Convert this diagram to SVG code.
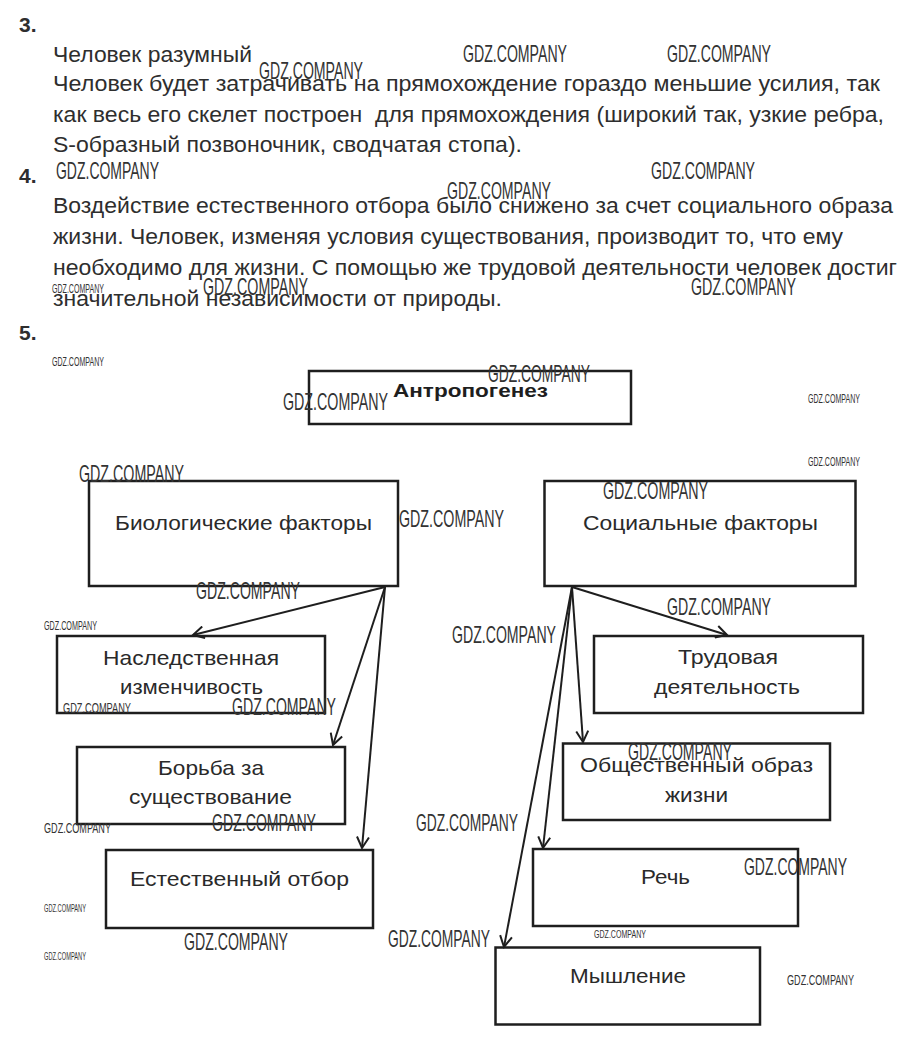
<svg xmlns="http://www.w3.org/2000/svg" width="909" height="1037" viewBox="0 0 909 1037">
<style>
  .p { font-family: "Liberation Sans", Arial, sans-serif; font-size: 21.5px; fill: #2e2e2e; white-space: pre; }
  .num { font-family: "Liberation Sans", Arial, sans-serif; font-size: 21px; font-weight: bold; fill: #2e2e2e; }
  .box { fill: none; stroke: #1e1e1e; stroke-width: 2.5; }
  .lbl { font-family: "Liberation Sans", Arial, sans-serif; font-size: 21px; fill: #2a2a2a; }
  .title { font-family: "Liberation Sans", Arial, sans-serif; font-size: 18.5px; font-weight: bold; fill: #1e1e1e; }
  .con { stroke: #1e1e1e; stroke-width: 2; fill: none; marker-end: url(#arr); }
  .wm { font-family: "Liberation Sans", Arial, sans-serif; fill: #333; }
  .wl { font-size: 24px; }
  .wm15 { font-size: 15px; }
  .ws { font-size: 12.5px; }
  .wt { font-size: 10px; }
</style>
<defs>
  <marker id="arr" markerUnits="userSpaceOnUse" markerWidth="14" markerHeight="14" viewBox="0 0 14 14" refX="12" refY="7" orient="auto">
    <path d="M1,1 L12,7 L1,13" fill="none" stroke="#1e1e1e" stroke-width="2"/>
  </marker>
</defs>
<rect width="909" height="1037" fill="#fff"/>

<g id="text">
  <text class="num" x="19" y="32">3.</text>
  <text class="p" x="53" y="62" textLength="199" lengthAdjust="spacingAndGlyphs">Человек разумный</text>
  <text class="p" x="53" y="91" textLength="827" lengthAdjust="spacingAndGlyphs">Человек будет затрачивать на прямохождение гораздо меньшие усилия, так</text>
  <text class="p" x="53" y="122" textLength="831" lengthAdjust="spacingAndGlyphs">как весь его скелет построен  для прямохождения (широкий так, узкие ребра,</text>
  <text class="p" x="53" y="152" textLength="469" lengthAdjust="spacingAndGlyphs">S-образный позвоночник, сводчатая стопа).</text>
  <text class="num" x="19" y="183">4.</text>
  <text class="p" x="53" y="213" textLength="840" lengthAdjust="spacingAndGlyphs">Воздействие естественного отбора было снижено за счет социального образа</text>
  <text class="p" x="53" y="244" textLength="790" lengthAdjust="spacingAndGlyphs">жизни. Человек, изменяя условия существования, производит то, что ему</text>
  <text class="p" x="53" y="275" textLength="844" lengthAdjust="spacingAndGlyphs">необходимо для жизни. С помощью же трудовой деятельности человек достиг</text>
  <text class="p" x="53" y="306" textLength="449" lengthAdjust="spacingAndGlyphs">значительной независимости от природы.</text>
  <text class="num" x="19" y="340">5.</text>
</g>

<g id="node-anthropogenesis">
  <rect class="box" x="309" y="371" width="322" height="53"/>
  <text class="title" x="393" y="397" textLength="155" lengthAdjust="spacingAndGlyphs">Антропогенез</text>
</g>
<g id="node-bio">
  <rect class="box" x="89" y="481" width="309" height="105"/>
  <text class="lbl" x="115" y="530" textLength="257" lengthAdjust="spacingAndGlyphs">Биологические факторы</text>
</g>
<g id="node-social">
  <rect class="box" x="544.5" y="481" width="311" height="105"/>
  <text class="lbl" x="583" y="530" textLength="235" lengthAdjust="spacingAndGlyphs">Социальные факторы</text>
</g>
<g id="node-heredity">
  <rect class="box" x="57" y="636" width="268" height="77"/>
  <text class="lbl" x="103" y="665" textLength="176" lengthAdjust="spacingAndGlyphs">Наследственная</text>
  <text class="lbl" x="120" y="694" textLength="143" lengthAdjust="spacingAndGlyphs">изменчивость</text>
</g>
<g id="node-struggle">
  <rect class="box" x="77" y="747" width="268" height="77"/>
  <text class="lbl" x="158" y="775" textLength="106" lengthAdjust="spacingAndGlyphs">Борьба за</text>
  <text class="lbl" x="129" y="804" textLength="163" lengthAdjust="spacingAndGlyphs">существование</text>
</g>
<g id="node-selection">
  <rect class="box" x="106" y="850" width="267" height="78"/>
  <text class="lbl" x="130" y="886" textLength="219" lengthAdjust="spacingAndGlyphs">Естественный отбор</text>
</g>
<g id="node-labour">
  <rect class="box" x="594" y="636" width="269" height="77"/>
  <text class="lbl" x="678" y="664" textLength="100" lengthAdjust="spacingAndGlyphs">Трудовая</text>
  <text class="lbl" x="654" y="694" textLength="146" lengthAdjust="spacingAndGlyphs">деятельность</text>
</g>
<g id="node-society">
  <rect class="box" x="563" y="743.5" width="267" height="76.5"/>
  <text class="lbl" x="580" y="772" textLength="233" lengthAdjust="spacingAndGlyphs">Общественный образ</text>
  <text class="lbl" x="665" y="802" textLength="63" lengthAdjust="spacingAndGlyphs">жизни</text>
</g>
<g id="node-speech">
  <rect class="box" x="533" y="849" width="265" height="77"/>
  <text class="lbl" x="641" y="884" textLength="49" lengthAdjust="spacingAndGlyphs">Речь</text>
</g>
<g id="node-thinking">
  <rect class="box" x="495.5" y="947.5" width="264.5" height="77"/>
  <text class="lbl" x="570" y="983" textLength="116" lengthAdjust="spacingAndGlyphs">Мышление</text>
</g>

<g id="connectors">
  <line class="con" x1="385" y1="587" x2="193" y2="635"/>
  <line class="con" x1="385" y1="587" x2="333" y2="745"/>
  <line class="con" x1="385" y1="587" x2="362" y2="848"/>
  <line class="con" x1="572" y1="587" x2="727" y2="635"/>
  <line class="con" x1="572" y1="587" x2="583" y2="742"/>
  <line class="con" x1="572" y1="587" x2="543" y2="848"/>
  <line class="con" x1="572" y1="587" x2="504" y2="947"/>
</g>

<g id="watermarks" class="wm">
  <text class="wl" x="463" y="62" textLength="104" lengthAdjust="spacingAndGlyphs">GDZ.COMPANY</text>
  <text class="wl" x="667" y="62" textLength="104" lengthAdjust="spacingAndGlyphs">GDZ.COMPANY</text>
  <text class="wl" x="259" y="79" textLength="104" lengthAdjust="spacingAndGlyphs">GDZ.COMPANY</text>
  <text class="wl" x="56" y="179" textLength="103" lengthAdjust="spacingAndGlyphs">GDZ.COMPANY</text>
  <text class="wl" x="651" y="179" textLength="104" lengthAdjust="spacingAndGlyphs">GDZ.COMPANY</text>
  <text class="wl" x="447" y="199" textLength="104" lengthAdjust="spacingAndGlyphs">GDZ.COMPANY</text>
  <text class="ws" x="52" y="293" textLength="52" lengthAdjust="spacingAndGlyphs">GDZ.COMPANY</text>
  <text class="wl" x="203" y="295" textLength="105" lengthAdjust="spacingAndGlyphs">GDZ.COMPANY</text>
  <text class="wl" x="691" y="295" textLength="105" lengthAdjust="spacingAndGlyphs">GDZ.COMPANY</text>
  <text class="ws" x="52" y="366" textLength="52" lengthAdjust="spacingAndGlyphs">GDZ.COMPANY</text>
  <text class="wl" x="488" y="382" textLength="102" lengthAdjust="spacingAndGlyphs">GDZ.COMPANY</text>
  <text class="wl" x="283" y="410" textLength="105" lengthAdjust="spacingAndGlyphs">GDZ.COMPANY</text>
  <text class="ws" x="808" y="402.5" textLength="52" lengthAdjust="spacingAndGlyphs">GDZ.COMPANY</text>
  <text class="ws" x="808" y="465.5" textLength="52" lengthAdjust="spacingAndGlyphs">GDZ.COMPANY</text>
  <text class="wl" x="79" y="482" textLength="105" lengthAdjust="spacingAndGlyphs">GDZ.COMPANY</text>
  <text class="wl" x="603" y="499" textLength="105" lengthAdjust="spacingAndGlyphs">GDZ.COMPANY</text>
  <text class="wl" x="399" y="527" textLength="105" lengthAdjust="spacingAndGlyphs">GDZ.COMPANY</text>
  <text class="wl" x="196" y="599" textLength="104" lengthAdjust="spacingAndGlyphs">GDZ.COMPANY</text>
  <text class="wl" x="667" y="615" textLength="104" lengthAdjust="spacingAndGlyphs">GDZ.COMPANY</text>
  <text class="ws" x="44" y="629.5" textLength="53" lengthAdjust="spacingAndGlyphs">GDZ.COMPANY</text>
  <text class="wl" x="452" y="643" textLength="104" lengthAdjust="spacingAndGlyphs">GDZ.COMPANY</text>
  <text class="wm15" x="63" y="712.5" textLength="68" lengthAdjust="spacingAndGlyphs">GDZ.COMPANY</text>
  <text class="wl" x="232" y="715" textLength="104" lengthAdjust="spacingAndGlyphs">GDZ.COMPANY</text>
  <text class="wl" x="628" y="760" textLength="104" lengthAdjust="spacingAndGlyphs">GDZ.COMPANY</text>
  <text class="wm15" x="44" y="832.5" textLength="67" lengthAdjust="spacingAndGlyphs">GDZ.COMPANY</text>
  <text class="wl" x="212" y="831" textLength="104" lengthAdjust="spacingAndGlyphs">GDZ.COMPANY</text>
  <text class="wl" x="416" y="831" textLength="102" lengthAdjust="spacingAndGlyphs">GDZ.COMPANY</text>
  <text class="wl" x="744" y="875" textLength="103" lengthAdjust="spacingAndGlyphs">GDZ.COMPANY</text>
  <text class="wt" x="44" y="912" textLength="42" lengthAdjust="spacingAndGlyphs">GDZ.COMPANY</text>
  <text class="wl" x="184" y="950" textLength="104" lengthAdjust="spacingAndGlyphs">GDZ.COMPANY</text>
  <text class="wl" x="388" y="947" textLength="102" lengthAdjust="spacingAndGlyphs">GDZ.COMPANY</text>
  <text class="wt" x="594" y="937.5" textLength="52" lengthAdjust="spacingAndGlyphs">GDZ.COMPANY</text>
  <text class="wt" x="44" y="960" textLength="42" lengthAdjust="spacingAndGlyphs">GDZ.COMPANY</text>
  <text class="wm15" x="787" y="985" textLength="67" lengthAdjust="spacingAndGlyphs">GDZ.COMPANY</text>
</g>
</svg>
